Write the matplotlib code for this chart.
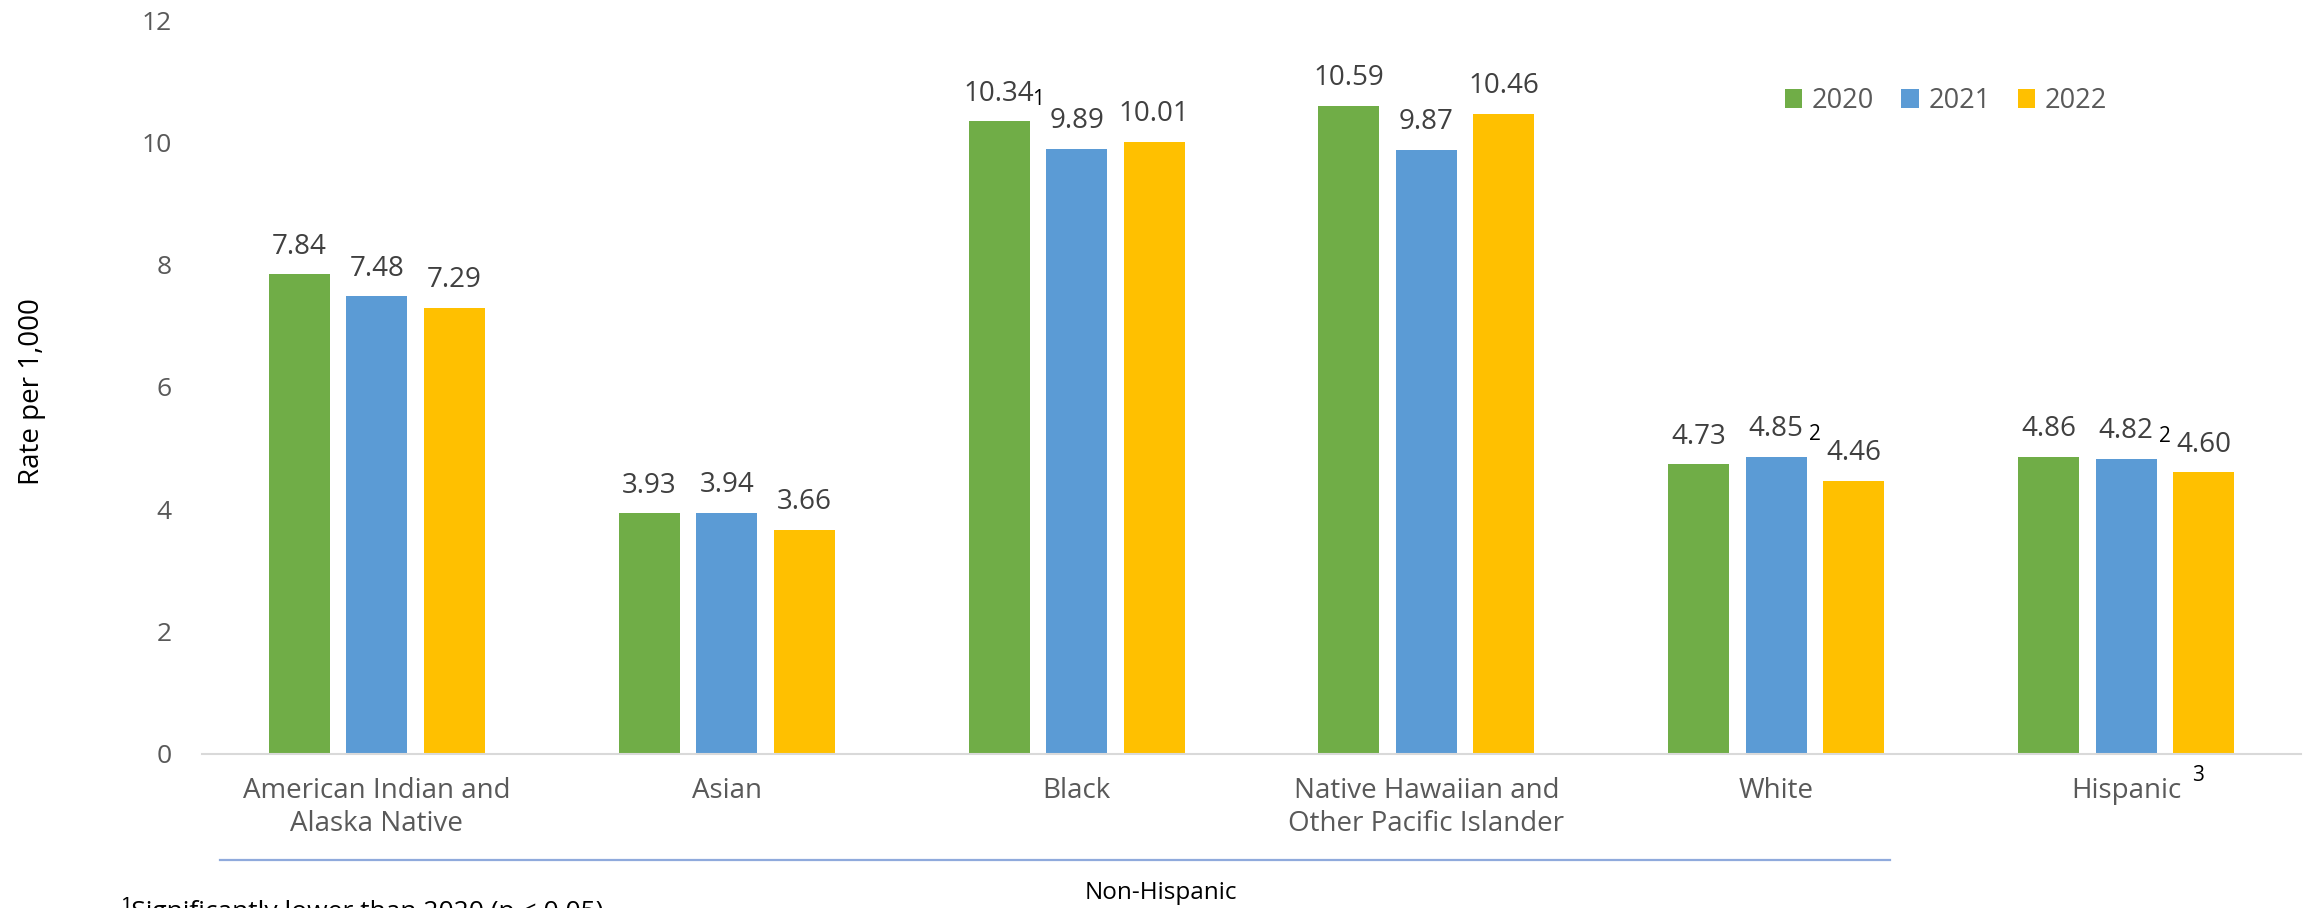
import matplotlib
matplotlib.use("Agg")
import matplotlib.pyplot as plt
from matplotlib.lines import Line2D
from matplotlib.patches import Patch
import numpy as np

# ---------------------------------------------------------------------------
# data
# ---------------------------------------------------------------------------
groups = ["American Indian and\nAlaska Native", "Asian", "Black",
          "Native Hawaiian and\nOther Pacific Islander", "White", "Hispanic"]
years = ["2020", "2021", "2022"]
rate_2020 = [7.84, 3.93, 10.34, 10.59, 4.73, 4.86]
rate_2021 = [7.48, 3.94, 9.89, 9.87, 4.85, 4.82]
rate_2022 = [7.29, 3.66, 10.01, 10.46, 4.46, 4.60]
yticks = [0, 2, 4, 6, 8, 10, 12]
# footnote marks placed in the gap after bar k of a group: (group, k, mark)
marks = [(2, 0, "1"), (4, 1, "2"), (5, 1, "2")]
footnote = "\u00b9Significantly lower than 2020 (p < 0.05)"

COLORS = ["#70AD47", "#5B9BD5", "#FFC000"]
FONT = ["Open Sans", "DejaVu Sans"]
W, H = 2303, 908
BW, STEP = 0.174, 0.2215

plt.rcParams["font.family"] = FONT
fig = plt.figure(figsize=(W / 100, H / 100), dpi=100)
ax = fig.add_axes([202 / W, 1 - 753.7 / H, (2301 - 202) / W, (753.7 - 20) / H])

x = np.arange(len(groups))
series = [rate_2020, rate_2021, rate_2022]
for k, (vals, col) in enumerate(zip(series, COLORS)):
    xs = x + (k - 1) * STEP
    ax.bar(xs, vals, width=BW, color=col, edgecolor="none", zorder=2)
    for xi, v in zip(xs, vals):
        ax.annotate(f"{v:.2f}", (xi, v), xytext=(0, 15), textcoords="offset points",
                    ha="center", va="baseline", fontsize=20, color="#404040")

for g, k, m in marks:
    vals = series[k]
    gx = x[g] + (k - 1) * STEP + STEP / 2
    ax.annotate(m, (gx, vals[g]), xytext=(0, 16), textcoords="offset points",
                ha="center", va="center", fontsize=15, color="black")

ax.set_xlim(-0.5, len(groups) - 0.5)
ax.set_ylim(0, 12)
ax.set_yticks(yticks)
ax.set_xticks(x, groups)
ax.tick_params(axis="y", length=0, pad=22, labelsize=19, labelcolor="#595959")
ax.tick_params(axis="x", length=0, pad=17, labelsize=20, labelcolor="#595959")
for s in ["top", "right", "left"]:
    ax.spines[s].set_visible(False)
ax.spines["bottom"].set_color("#D9D9D9")
ax.spines["bottom"].set_linewidth(1.5)

# "3" after Hispanic
ax.annotate("3", (x[-1], 0), xytext=(52, -16), textcoords="offset points",
            ha="center", va="center", fontsize=15, color="black",
            annotation_clip=False)

ax.set_ylabel("Rate per 1,000", fontsize=20, color="black")
ax.yaxis.set_label_coords(-(202 - 46) / (2301 - 202), (753.7 - 392) / (753.7 - 20))

handles = [Patch(facecolor=c, edgecolor="none") for c in COLORS]
fig.legend(handles, years, loc="center", bbox_to_anchor=(1946 / W, 1 - 101 / H),
           ncol=3, frameon=False, fontsize=19.5, labelcolor="#595959",
           handlelength=0.65, handleheight=0.65, handletextpad=0.35,
           columnspacing=1.0)

fig.add_artist(Line2D([220 / W, 1890 / W], [1 - 860 / H, 1 - 860 / H],
                      transform=fig.transFigure, color="#8FAADC", lw=1.6))
fig.text(1161 / W, 1 - 893 / H, "Non-Hispanic", ha="center", va="center",
         fontsize=17.5, color="black")
fig.text(122 / W, 1 - 897 / H, footnote, ha="left", va="top",
         fontsize=19, color="black")

fig.savefig("out.png", dpi=100)
